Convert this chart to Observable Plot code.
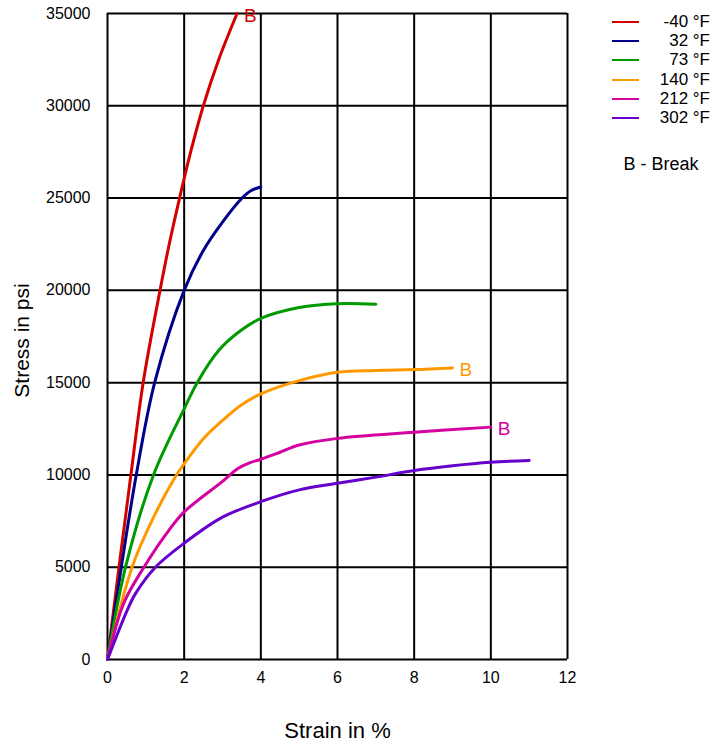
<!DOCTYPE html>
<html><head><meta charset="utf-8">
<script src="https://cdn.jsdelivr.net/npm/d3@7"></script>
<script src="https://cdn.jsdelivr.net/npm/@observablehq/plot@0.6"></script>
<style>
body{margin:0;background:#fff;font-family:"Liberation Sans",Arial,sans-serif;}
#wrap{position:relative;width:713px;height:745px;}
#legend{position:absolute;left:600px;top:0;width:113px;height:190px;font-size:17px;color:#000;}
.row{position:absolute;left:0;width:110px;height:20px;}
.row .sw{position:absolute;left:12px;width:27px;top:9px;height:2px;}
.row .lab{position:absolute;right:0;top:0;line-height:20px;white-space:nowrap;}
.note{position:absolute;left:0;width:122px;text-align:center;top:154px;line-height:20px;font-size:18px;}
</style></head><body><div id="wrap"></div>
<script>
// Series (temperature) names
const temps = ["-40 °F", "32 °F", "73 °F", "140 °F", "212 °F", "302 °F"];
const colors = ["#d40000", "#000088", "#009900", "#ff9900", "#d4009f", "#6600cc"];

// Strain (%) / stress (psi) values
const strainM40 = [0, 0.3, 0.61, 0.93, 1.37, 1.61, 1.88, 2.17, 2.5, 2.9, 3.38];
const stressM40 = [0, 5000, 10000, 15000, 20000, 22500, 25000, 27500, 30000, 32500, 35000];

const strain32 = [0, 0.36, 0.75, 1.23, 2, 2.5, 3, 3.5, 3.75, 4.0];
const stress32 = [0, 5000, 10000, 15000, 20000, 22160, 23700, 24980, 25410, 25600];

const strain73 = [0, 0.47, 1.2, 2, 2.34, 2.9, 3.4, 4, 5, 6, 7];
const stress73 = [0, 5000, 10000, 13580, 15000, 16740, 17700, 18480, 19070, 19280, 19250];

const strain140 = [0, 0.64, 1.2, 1.8, 2, 2.5, 3, 3.5, 4, 5, 6, 7, 8, 9];
const stress140 = [0, 5000, 7700, 10000, 10600, 11960, 12950, 13800, 14390, 15110, 15560, 15660, 15710, 15800];

const strain212 = [0, 0.42, 0.95, 1.6, 2, 3, 3.4, 3.7, 4, 4.5, 5, 6, 8, 10];
const stress212 = [0, 3030, 5000, 7000, 8000, 9650, 10350, 10650, 10850, 11230, 11620, 11980, 12310, 12590];

const strain302 = [0, 0.51, 0.73, 1.25, 2, 3, 4, 5, 6, 7, 8, 9, 10, 11];
const stress302 = [0, 2650, 3570, 5000, 6300, 7710, 8550, 9190, 9550, 9880, 10240, 10500, 10690, 10780];

// Series that end with a break ("B")
const breakSeries = ["-40 °F", "140 °F", "212 °F"];

const xTicks = [0, 2, 4, 6, 8, 10, 12];
const yTicks = [0, 5000, 10000, 15000, 20000, 25000, 30000, 35000];

const strains = [strainM40, strain32, strain73, strain140, strain212, strain302];
const stresses = [stressM40, stress32, stress73, stress140, stress212, stress302];

const rows = [];
temps.forEach((t, i) => strains[i].forEach((s, j) => rows.push({temp: t, strain: s, stress: stresses[i][j]})));
const breaks = breakSeries.map(t => {
  const i = temps.indexOf(t);
  const n = strains[i].length - 1;
  return {temp: t, strain: strains[i][n], stress: stresses[i][n]};
});

const chart = Plot.plot({
  width: 713, height: 745,
  marginLeft: 107, marginRight: 146, marginTop: 13, marginBottom: 86,
  style: {fontFamily: "'Liberation Sans', Arial, sans-serif", fontSize: "16px", color: "#000", background: "transparent"},
  x: {domain: [0, 12]},
  y: {domain: [0, 35000]},
  color: {domain: temps, range: colors},
  marks: [
    Plot.gridX(xTicks, {stroke: "#000", strokeOpacity: 1, strokeWidth: 2}),
    Plot.gridY(yTicks, {stroke: "#000", strokeOpacity: 1, strokeWidth: 2}),
    Plot.axisX(xTicks, {tickSize: 0, tickPadding: 12, label: null, fontSize: 16}),
    Plot.axisY(yTicks, {tickSize: 0, tickPadding: 17, label: null, fontSize: 16, tickFormat: d => String(d)}),
    Plot.line(rows, {x: "strain", y: "stress", z: "temp", stroke: "temp", strokeWidth: 3, curve: "catmull-rom"}),
    Plot.text(breaks, {x: "strain", y: "stress", text: () => "B", fill: "temp", textAnchor: "start", dx: 7, dy: 2, fontSize: 19}),
    Plot.text(["Stress in psi"], {text: d => d, frameAnchor: "left", textAnchor: "middle", lineAnchor: "middle", dx: -85, dy: 4, rotate: -90, fontSize: 21}),
    Plot.text(["Strain in %"], {text: d => d, frameAnchor: "bottom", textAnchor: "middle", lineAnchor: "middle", dy: 71, fontSize: 22})
  ]
});
const wrap = document.getElementById("wrap");
wrap.appendChild(chart);

const legend = document.createElement("div");
legend.id = "legend";
temps.forEach((t, i) => {
  const r = document.createElement("div");
  r.className = "row";
  r.style.top = (12 + i * 19.2) + "px";
  const sw = document.createElement("div");
  sw.className = "sw";
  sw.style.background = colors[i];
  const lab = document.createElement("div");
  lab.className = "lab";
  lab.textContent = t;
  r.appendChild(sw); r.appendChild(lab);
  legend.appendChild(r);
});
const note = document.createElement("div");
note.className = "note";
note.textContent = "B - Break";
legend.appendChild(note);
wrap.appendChild(legend);
</script></body></html>
